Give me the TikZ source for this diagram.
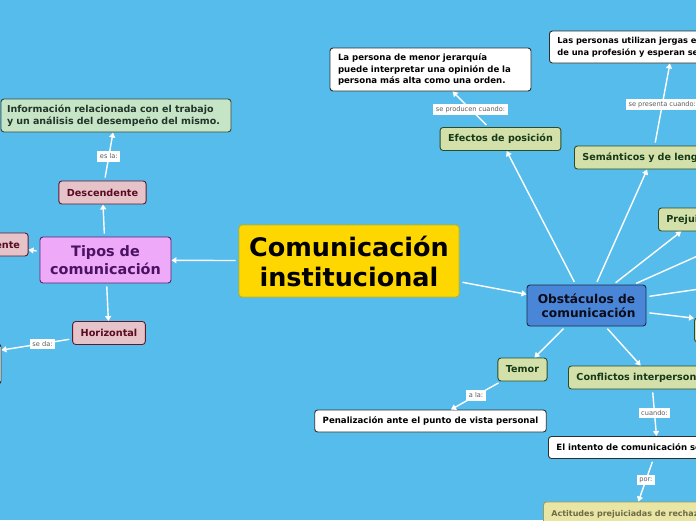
\documentclass[tikz,border=0pt]{standalone}
\usepackage{fontspec}
\setmainfont{DejaVu Sans}
\usetikzlibrary{arrows.meta}
\definecolor{sky}{HTML}{55BCEC}
\definecolor{rootyel}{HTML}{FFD700}
\definecolor{rootedge}{HTML}{C9B400}
\definecolor{tipofill}{HTML}{EFA9F9}
\definecolor{tipoedge}{HTML}{5C2270}
\definecolor{tipotext}{HTML}{4B1262}
\definecolor{pinkfill}{HTML}{E6C3C9}
\definecolor{pinkedge}{HTML}{5E1A2C}
\definecolor{pinktext}{HTML}{5A0A22}
\definecolor{infofill}{HTML}{C6E4C6}
\definecolor{infoedge}{HTML}{37473A}
\definecolor{infotext}{HTML}{22352A}
\definecolor{greenfill}{HTML}{D4E0A9}
\definecolor{greenedge}{HTML}{2B4A28}
\definecolor{greentext}{HTML}{16391A}
\definecolor{obsfill}{HTML}{4A86D8}
\definecolor{obsedge}{HTML}{1C2B48}
\definecolor{obstext}{HTML}{0B0B1A}
\definecolor{plainedge}{HTML}{2E2E2E}
\definecolor{actfill}{HTML}{E9E5A5}
\definecolor{actedge}{HTML}{9C9A63}
\definecolor{acttext}{HTML}{6B6B45}
\definecolor{labgray}{HTML}{5A5A5A}
\newcommand{\fsz}[2]{\fontsize{#1}{#2}\selectfont}

\begin{document}
\begin{tikzpicture}[x=1pt,y=-1pt, every node/.style={font=\bfseries},
  box/.style={draw,rounded corners=3pt,line width=0.9pt,inner xsep=8pt,
  inner ysep=0pt,minimum height=23pt},
  root/.style={box,fill=rootyel,draw=rootedge,text=black,minimum width=220pt,
  minimum height=72pt,align=center,font=\bfseries\fsz{25.5}{30}},
  tipo/.style={box,fill=tipofill,draw=tipoedge,text=tipotext,minimum
  width=131pt,minimum height=46pt,align=center,font=\bfseries\fsz{14.4}{18}},
  pinkn/.style={box,fill=pinkfill,draw=pinkedge,text=pinktext,
  font=\bfseries\fsz{9.7}{11}},
  infon/.style={box,fill=infofill,draw=infoedge,text=infotext,inner xsep=6pt,
  text width=218pt,align=left,minimum height=33pt,font=\bfseries\fsz{9.5}{11.7}},
  obsn/.style={box,fill=obsfill,draw=obsedge,text=obstext,minimum width=119pt,
  minimum height=41pt,align=center,font=\bfseries\fsz{12.2}{14.5}},
  greenn/.style={box,fill=greenfill,draw=greenedge,text=greentext,
  align=left,font=\bfseries\fsz{9.6}{11}},
  plain/.style={box,fill=white,draw=plainedge,text=black,align=left,
  minimum height=22pt,font=\bfseries\fsz{8.6}{11.5}},
  actn/.style={box,fill=actfill,draw=actedge,text=acttext,align=left,
  font=\bfseries\fsz{8.0}{10}},
  conn/.style={draw=white,line width=1.4pt,-{Triangle[length=5pt,width=6pt]},
  shorten <=3pt},
  lbl/.style={font=\fsz{6.6}{7},fill=white,text=labgray,inner sep=2.5pt}]
\useasboundingbox (0,0) rectangle (696,520);
\clip (0,0) rectangle (696,520);
\fill[sky] (0,0) rectangle (696,520);
% left half
\node[root] (inst) at (349,261) {Comunicación\\institucional};
\node[tipo] (tipos) at (105.5,260) {Tipos de\\comunicación};
\node[pinkn] (desc) at (102.5,192.5) {Descendente};
\node[pinkn] (asc) at (-12,244.5) {Ascendente};
\node[pinkn] (horiz) at (109,333) {Horizontal};
\node[infon] (info) at (116,115.5) {Información relacionada con el trabajo\\y un
  análisis del desempeño del mismo.};
\node[plain,minimum width=174pt,minimum height=40pt] (lado) at (-86,364) {};
% right half
\node[obsn] (obst) at (586.5,305.5) {Obstáculos de\\\ comunicación};
\node[greenn] (efec) at (500.5,139) {Efectos de posición};
\node[plain,text width=185pt,minimum height=43pt] (menor) at (430.5,69.5) {La
  persona de menor jerarquía\\puede interpretar una opinión de la\\persona más
  alta como una orden.};
\node[greenn,anchor=west,text width=140pt] (sem) at (574,157.5) {Semánticos y de
  lenguaje};
\node[plain,anchor=west,text width=231pt,minimum height=32pt,
  font=\bfseries\fsz{8.3}{11.5}] (jerga) at (549,47) {Las personas utilizan
  jergas específicas\\de una profesión y esperan ser};
\node[greenn,anchor=west,text width=60pt] (preju) at (658,219.5) {Prejuicios};
\node[greenn,anchor=west,minimum width=202pt,minimum height=24pt] (otro) at
  (694,330) {};
\coordinate (fuera1) at (720,246);
\coordinate (fuera2) at (720,286);
\node[greenn] (temor) at (522.5,369.5) {Temor};
\node[plain] (penal) at (430.5,421) {Penalización ante el punto de vista
  personal};
\node[greenn,anchor=west,text width=150pt] (confl) at (568,377.5) {Conflictos
  interpersonales};
\node[plain,anchor=west,text width=202pt] (intento) at (548,447.5) {El intento de
  comunicación se};
\node[actn,anchor=west,text width=165pt,minimum height=24pt] (actit) at
  (543,514) {Actitudes prejuiciadas de rechazo};
% connectors
\draw[conn] (inst) -- (tipos);
\draw[conn] (inst) -- (obst);
\draw[conn] (tipos) -- (desc);
\draw[conn] (tipos) -- (asc);
\draw[conn] (tipos) -- (horiz);
\draw[conn] (desc) -- node[lbl] {es la:} (info);
\draw[conn] (horiz) -- node[lbl,pos=0.42] {se da:} (lado);
\draw[conn] (obst) -- (efec);
\draw[conn] (efec) -- node[lbl] {se producen cuando:} (menor);
\draw[conn] (obst) -- (sem);
\draw[conn] (sem) -- node[lbl] {se presenta cuando:} (jerga);
\draw[conn] (obst) -- (preju);
\draw[conn] (obst) -- (fuera1);
\draw[conn] (obst) -- (fuera2);
\draw[conn] (obst) -- (otro);
\draw[conn] (obst) -- (temor);
\draw[conn] (temor) -- node[lbl] {a la:} (penal);
\draw[conn] (obst) -- (confl);
\draw[conn] (confl) -- node[lbl] {cuando:} (intento);
\draw[conn] (intento) -- node[lbl] {por:} (actit);
\end{tikzpicture}
\end{document}
